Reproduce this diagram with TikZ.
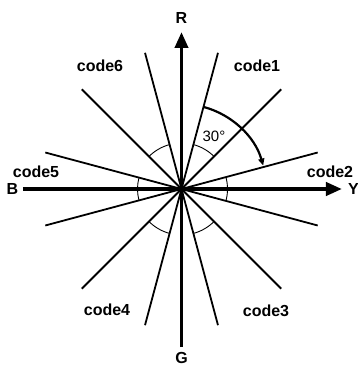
\documentclass[tikz,border=0pt]{standalone}
\usepackage{fontspec}
\setmainfont{Liberation Sans}
\usetikzlibrary{arrows.meta}
\begin{document}
\begin{tikzpicture}[x=1pt,y=1pt,
  ray/.style={line width=1.8pt},
  axis/.style={line width=3.8pt,-{Triangle[length=16pt,width=13pt]}},
  small/.style={line width=0.9pt},
  bigarc/.style={line width=2.2pt,-{Triangle[length=7pt,width=6pt]}},
  lab/.style={font=\fontsize{16}{18}\selectfont\bfseries, inner sep=0pt}]
\useasboundingbox (-181.5,-181) rectangle (176.5,189);
\coordinate (O) at (0,0);
\foreach \a in {15,45,75,105,135,165,195,225,255,285,315,345}{
  \coordinate (e\a) at (\a:141);
  \draw[ray] (O) -- (e\a);
}
\coordinate (Rt) at (0,157);
\coordinate (Gb) at (0,-158);
\coordinate (Bl) at (-158.5,0);
\coordinate (Yt) at (160.5,0);
\draw[axis] (Gb) -- (Rt);
\draw[axis] (Bl) -- (Yt);
% small angle arcs
\draw[small] (75:46) arc[start angle=75,end angle=45,radius=46];
\draw[small] (105:46) arc[start angle=105,end angle=135,radius=46];
\draw[small] (165:44) arc[start angle=165,end angle=195,radius=44];
\draw[small] (-15:46) arc[start angle=-15,end angle=15,radius=46];
\draw[small] (225:46) arc[start angle=225,end angle=255,radius=46];
\draw[small] (285:46) arc[start angle=285,end angle=315,radius=46];
% big arc
\draw[bigarc] (75:85) arc[start angle=75,end angle=16,radius=85];
% labels
\node[lab] (R) at (0,171) {R};
\node[lab] (G) at (0,-169) {G};
\node[lab] (B) at (-169,0) {B};
\node[lab] (Y) at (172,0) {Y};
\node[lab] (c1) at (75.5,123) {code1};
\node[lab] (c6) at (-81.5,123) {code6};
\node[lab] (c5) at (-145.5,17) {code5};
\node[lab] (c2) at (148.5,17) {code2};
\node[lab] (c4) at (-74.5,-121) {code4};
\node[lab] (c3) at (84.5,-122) {code3};
\node[inner sep=0pt,font=\fontsize{15}{16}\selectfont] (ang) at (32.5,53) {30°};
\end{tikzpicture}
\end{document}
